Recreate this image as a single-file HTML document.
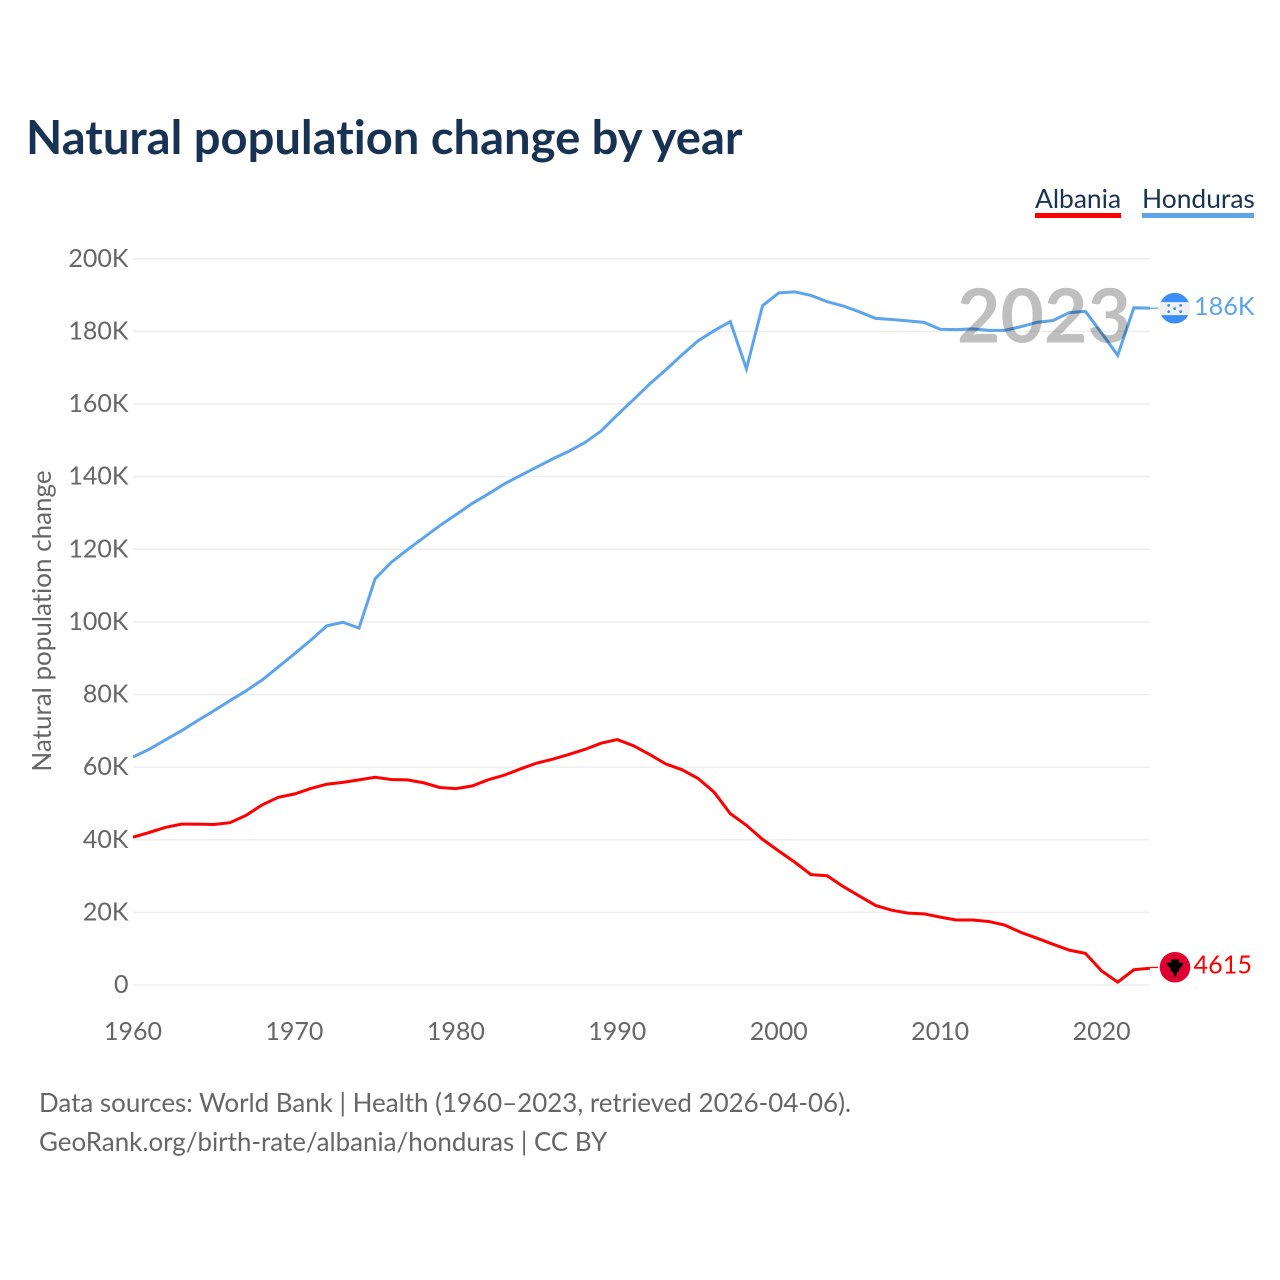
<!DOCTYPE html>
<html lang="en">
<head>
<meta charset="utf-8">
<title>Natural population change by year</title>
<style>
html,body{margin:0;padding:0;background:#fff;width:1280px;height:1280px;overflow:hidden}
svg{display:block}
text{font-family:"Lato","Carlito","Liberation Sans",sans-serif;font-variant-ligatures:none}
</style>
</head>
<body>
<svg id="chart" xmlns="http://www.w3.org/2000/svg" width="1280" height="1280" viewBox="0 0 1280 1280">
<rect x="0" y="0" width="1280" height="1280" fill="#fff"/>
<text x="26" y="154" font-size="47.13" font-weight="700" fill="#183253">Natural population change by year</text>
<g>
<text x="1035" y="208" font-size="26.4" fill="#183253">Albania</text>
<rect x="1035" y="213" width="86" height="5" fill="#ff0000"/>
</g>
<g>
<text x="1142" y="208" font-size="26.4" fill="#183253">Honduras</text>
<rect x="1142" y="213" width="112" height="5" fill="#5ca4ec"/>
</g>
<g id="grid"></g>
<g id="yticks"></g>
<g id="xticks"></g>
<text transform="translate(51 621) rotate(-90)" text-anchor="middle" font-size="26" fill="#666">Natural population change</text>
<g id="series"></g>
<g id="flags"></g>
<text x="957" y="342.5" font-size="75" font-weight="700" fill="#000" fill-opacity="0.25">2023</text>
<text x="39" y="1112" font-size="25.93" fill="#666">Data sources: World Bank | Health (1960–2023, retrieved 2026-04-06).</text>
<text x="39" y="1151" font-size="25.93" fill="#666">GeoRank.org/birth-rate/albania/honduras | CC BY</text>
</svg>
<script>
const years = [1960,1961,1962,1963,1964,1965,1966,1967,1968,1969,1970,1971,1972,1973,1974,1975,1976,1977,1978,1979,1980,1981,1982,1983,1984,1985,1986,1987,1988,1989,1990,1991,1992,1993,1994,1995,1996,1997,1998,1999,2000,2001,2002,2003,2004,2005,2006,2007,2008,2009,2010,2011,2012,2013,2014,2015,2016,2017,2018,2019,2020,2021,2022,2023];
const hondurasValues = [62800,64900,67500,70000,72800,75500,78300,81000,84000,87600,91200,94900,98900,99900,98300,111900,116400,119900,123200,126500,129500,132600,135200,138000,140300,142600,144900,147000,149400,152600,157000,161200,165500,169400,173500,177400,180200,182700,169700,187100,190600,190900,189900,188200,187000,185400,183600,183300,182900,182500,180600,180500,180700,180300,180300,181300,182500,183000,185200,185500,179600,173400,186500,186400];
const albaniaValues = [40700,42000,43400,44300,44300,44200,44700,46700,49600,51700,52600,54100,55300,55800,56500,57200,56600,56500,55700,54400,54100,54800,56500,57800,59500,61100,62200,63500,64900,66600,67600,65900,63500,60900,59300,56900,53100,47200,44000,40100,36900,33800,30400,30100,27100,24500,21900,20600,19800,19600,18700,17900,17900,17500,16500,14500,12900,11200,9600,8700,3900,800,4200,4615];
const yTickValues = [0,20000,40000,60000,80000,100000,120000,140000,160000,180000,200000];
const yTickLabels = ["0","20K","40K","60K","80K","100K","120K","140K","160K","180K","200K"];
const xTickValues = [1960,1970,1980,1990,2000,2010,2020];
const albaniaEndLabel = "4615";
const hondurasEndLabel = "186K";

const SVG_NS = "http://www.w3.org/2000/svg";
const X0 = 133, X1 = 1150, Y0 = 985, Y1 = 258.8;
const xMin = 1960, xMax = 2023, yMin = 0, yMax = 200000;
function xScale(v){ return X0 + (v - xMin) / (xMax - xMin) * (X1 - X0); }
function yScale(v){ return Y0 - (v - yMin) / (yMax - yMin) * (Y0 - Y1); }
function make(tag, attrs, parent){
  const el = document.createElementNS(SVG_NS, tag);
  for (const k in attrs) el.setAttribute(k, attrs[k]);
  parent.appendChild(el);
  return el;
}
const grid = document.getElementById('grid');
const yticks = document.getElementById('yticks');
const xticks = document.getElementById('xticks');
const series = document.getElementById('series');
const flags = document.getElementById('flags');

yTickValues.forEach(function(v, i){
  const line = make('line', {x1:X0, x2:X1, y1:yScale(v), y2:yScale(v), stroke:'#eeeeee', 'stroke-width':1.5}, grid);
  
  
  const t = make('text', {x:128.5, y:yScale(v)+8, 'text-anchor':'end', 'font-size':25, fill:'#666'}, yticks);
  t.textContent = yTickLabels[i];
  
  
});
xTickValues.forEach(function(v){
  const t = make('text', {x:xScale(v), y:1040, 'text-anchor':'middle', 'font-size':25, fill:'#666'}, xticks);
  t.textContent = String(v);
  
  
});
function linePoints(values){
  return values.map(function(v, i){ return xScale(years[i]).toFixed(2) + ',' + yScale(v).toFixed(2); }).join(' ');
}
const hondurasLine = make('polyline', {points:linePoints(hondurasValues), fill:'none', stroke:'#5ca4ec', 'stroke-width':3, 'stroke-linejoin':'miter'}, series);


const albaniaLine = make('polyline', {points:linePoints(albaniaValues), fill:'none', stroke:'#ff0000', 'stroke-width':3, 'stroke-linejoin':'miter'}, series);



const hEndY = yScale(hondurasValues[hondurasValues.length-1]);
const aEndY = yScale(albaniaValues[albaniaValues.length-1]);
const hConn = make('line', {x1:X1, x2:1158, y1:hEndY, y2:hEndY, stroke:'#5ca4ec', 'stroke-width':1.2}, series);


const aConn = make('line', {x1:X1, x2:1158, y1:aEndY-0.8, y2:aEndY-0.8, stroke:'#ff0000', 'stroke-width':1.2}, series);



// Honduras flag
const hg = make('g', {transform:'translate(1174.7 '+hEndY+')'}, flags);


const hBase = make('circle', {r:15.3, fill:'#3a8ef5'}, hg);


const hBand = make('path', {d:'M-14 -6.1H14A15.3 15.3 0 0 1 14 6.9H-14A15.3 15.3 0 0 1 -14 -6.1Z', fill:'#f0f0f0'}, hg);


[[-6,-2.8],[6,-2.8],[0,0.4],[-6,3.5],[6,3.5]].forEach(function(p){
  const s = make('circle', {cx:p[0], cy:p[1], r:1.4, fill:'#3a8ef5'}, hg);
  
  
});
const hLabel = make('text', {x:1194, y:hEndY+7, 'font-size':25.2, fill:'#5ca4ec'}, flags);
hLabel.textContent = hondurasEndLabel;



// Albania flag
const ag = make('g', {transform:'translate(1175 '+(aEndY-1)+')'}, flags);


const aBase = make('circle', {r:15.3, fill:'#df0030'}, ag);


const eagle = make('path', {d:'M-8.5 -4.5 L-4 -4.5 L-4 -7.5 L0 -8 L4 -7.5 L4 -4.5 L8.5 -4.5 L7 -1 L4.5 1 L4 4 L2 5 L1 9.5 L-1 9.5 L-2 5 L-4 4 L-4.5 1 L-7 -1 Z', fill:'#000'}, ag);


const aLabel = make('text', {x:1193.5, y:aEndY+5.5, 'font-size':25.2, fill:'#ff0000'}, flags);
aLabel.textContent = albaniaEndLabel;


</script>
</body>
</html>
